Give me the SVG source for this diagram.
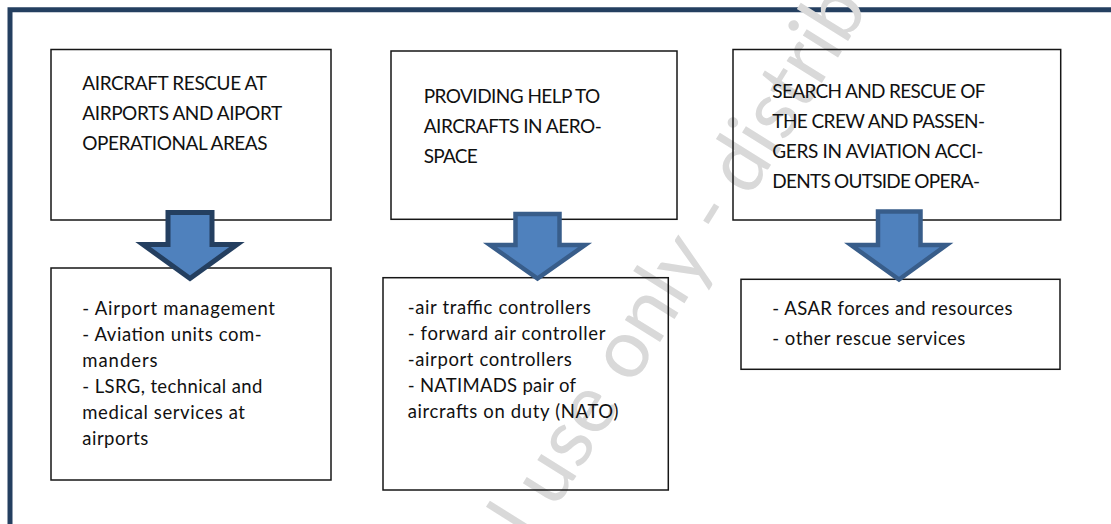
<svg xmlns="http://www.w3.org/2000/svg" width="1111" height="524" viewBox="0 0 1111 524">
  <style>
    .box { fill: none; stroke: #161616; stroke-width: 1.5; }
    .head { font-family: Lato, "Liberation Sans", sans-serif; font-size: 19px; fill: #111; }
    .item { font-family: Lato, "Liberation Sans", sans-serif; font-size: 18.5px; fill: #111; }
    .arrow { fill: #4F81BD; stroke: #385D8A; stroke-width: 4.5; stroke-linejoin: miter; stroke-miterlimit: 10; }
    .arrow.dark { stroke: #243F60; stroke-width: 5; }
    .mark { font-family: Lato, "Liberation Sans", sans-serif; font-size: 82px; fill: #d9d9d9; }
  </style>

  <!-- page frame: top and left rule only -->
  <path d="M10,524 V9.8 H1111" fill="none" stroke="#243F60" stroke-width="5"/>

  <!-- background stamp -->
  <g id="stamp" transform="translate(716,213) rotate(-58)">
    <text class="mark" y="21"><tspan x="12" text-anchor="end">l use only -</tspan><tspan x="30" text-anchor="start">distrib</tspan></text>
  </g>

  <!-- column 1 -->
  <g id="task-airports">
    <rect class="box" x="51" y="49.5" width="280" height="170.5"/>
    <text class="head">
      <tspan x="82.3" y="90" textLength="184">AIRCRAFT RESCUE AT</tspan>
      <tspan x="82.3" y="120" textLength="199.3">AIRPORTS AND AIPORT</tspan>
      <tspan x="82.3" y="150" textLength="185.3">OPERATIONAL AREAS</tspan>
    </text>
  </g>
  <g id="actors-airports">
    <rect class="box" x="51" y="268" width="280" height="212"/>
    <text class="item">
      <tspan x="82.3" y="315" textLength="192.7">- Airport management</tspan>
      <tspan x="82.3" y="341" textLength="179.3">- Aviation units com-</tspan>
      <tspan x="82.3" y="367" textLength="75.3">manders</tspan>
      <tspan x="82.3" y="393" textLength="180">- LSRG, technical and</tspan>
      <tspan x="82.3" y="419" textLength="162.7">medical services at</tspan>
      <tspan x="82.3" y="445" textLength="66">airports</tspan>
    </text>
  </g>

  <!-- column 2 -->
  <g id="task-airspace">
    <rect class="box" x="391" y="51" width="286" height="168.3"/>
    <text class="head">
      <tspan x="423.7" y="103.3" textLength="176.6">PROVIDING HELP TO</tspan>
      <tspan x="423.7" y="133.3" textLength="178">AIRCRAFTS IN AERO-</tspan>
      <tspan x="423.7" y="163.3" textLength="54">SPACE</tspan>
    </text>
  </g>
  <g id="actors-airspace">
    <rect class="box" x="383" y="277.7" width="285.3" height="212.3"/>
    <text class="item">
      <tspan x="407.7" y="314.3" textLength="183">-air traffic controllers</tspan>
      <tspan x="407.7" y="340.3" textLength="197.3">- forward air controller</tspan>
      <tspan x="407.7" y="366.3" textLength="164">-airport controllers</tspan>
      <tspan x="407.7" y="392.3" textLength="168">- NATIMADS pair of</tspan>
      <tspan x="407.7" y="418.3" textLength="210.7">aircrafts on duty (NATO)</tspan>
    </text>
  </g>

  <!-- column 3 -->
  <g id="task-sar">
    <rect class="box" x="733" y="49.5" width="327.7" height="170.5"/>
    <text class="head">
      <tspan x="772.3" y="97.7" textLength="212.7">SEARCH AND RESCUE OF</tspan>
      <tspan x="772.3" y="127.7" textLength="212.7">THE CREW AND PASSEN-</tspan>
      <tspan x="772.3" y="157.7" textLength="211">GERS IN AVIATION ACCI-</tspan>
      <tspan x="772.3" y="187.7" textLength="207.7">DENTS OUTSIDE OPERA-</tspan>
    </text>
  </g>
  <g id="actors-sar">
    <rect class="box" x="741" y="279.3" width="319" height="90"/>
    <text class="item">
      <tspan x="772.3" y="315" textLength="240.3">- ASAR forces and resources</tspan>
      <tspan x="772.3" y="345" textLength="193">- other rescue services</tspan>
    </text>
  </g>

  <!-- block arrows from each task to its actors -->
  <g id="connectors">
    <polygon class="arrow dark" points="168,212.5 212,212.5 212,244.5 237,244.5 190,278.5 143,244.5 168,244.5"/>
    <polygon class="arrow" points="515.5,214 559.5,214 559.5,245 585,245 537.5,278.5 490,245 515.5,245"/>
    <polygon class="arrow" points="878,211.5 920.5,211.5 920.5,245 946.5,245 899,279.5 851,245 878,245"/>
  </g>
</svg>
